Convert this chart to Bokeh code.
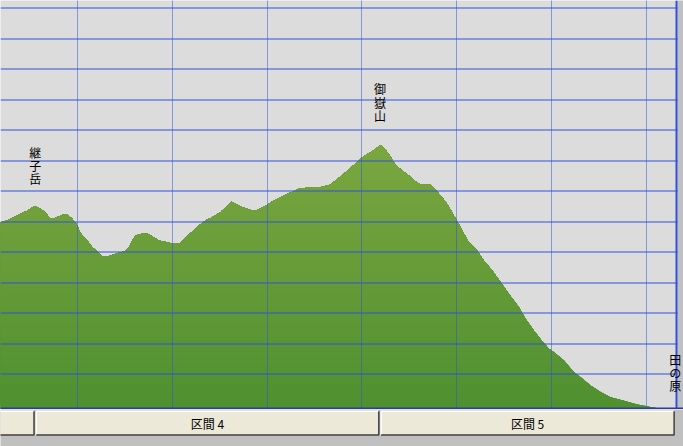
import numpy as np
from bokeh.plotting import figure
from bokeh.layouts import column
from bokeh.models import (Range1d, Span, ColumnDataSource, LabelSet, BoxAnnotation)
from bokeh.core.properties import value
from bokeh.embed import file_html
from bokeh.resources import INLINE

# ---- data (distance in km, elevation in m) ----
dist_km = [5.15, 5.182, 5.246, 5.323, 5.393, 5.464, 5.517, 5.552, 5.576, 5.639, 5.710,
           5.745, 5.797, 5.850, 5.886, 5.921, 5.963, 5.992, 6.013, 6.044, 6.097,
           6.150, 6.203, 6.248, 6.325, 6.378, 6.430, 6.501, 6.536, 6.572, 6.607,
           6.641, 6.688, 6.730, 6.800, 6.852, 6.905, 6.958, 7.011, 7.081, 7.152,
           7.222, 7.274, 7.345, 7.416, 7.503, 7.556, 7.619, 7.661, 7.714, 7.767,
           7.838, 7.883, 7.925, 7.996, 8.066, 8.154, 8.224, 8.329, 8.418, 8.558,
           8.664, 8.734, 8.804, 8.909, 8.980, 9.015, 9.068, 9.120, 9.173, 9.191,
           9.209, 9.244, 9.297, 9.349, 9.420, 9.490, 9.560, 9.613, 9.666, 9.719,
           9.753, 9.824, 9.895, 9.947, 10.000, 10.053, 10.123, 10.211, 10.281, 10.369,
           10.457, 10.545, 10.650, 10.721, 10.808, 10.897, 10.966, 11.019, 11.125, 11.230,
           11.301, 11.406, 11.512, 11.617, 11.758, 11.899, 12.021, 12.040, 12.147, 12.314]
elev_m = [2796, 2796, 2803, 2813, 2825, 2835, 2846, 2850, 2846, 2833, 2809,
          2809, 2816, 2822, 2822, 2813, 2800, 2786, 2770, 2754, 2737,
          2715, 2701, 2686, 2686, 2691, 2697, 2703, 2715, 2737, 2754,
          2756, 2760, 2759, 2748, 2737, 2734, 2730, 2727, 2728, 2753,
          2770, 2786, 2803, 2813, 2830, 2846, 2864, 2857, 2849, 2843,
          2836, 2836, 2843, 2854, 2868, 2882, 2892, 2907, 2910, 2912,
          2921, 2939, 2956, 2985, 3005, 3013, 3023, 3034, 3046, 3049,
          3045, 3034, 3012, 2985, 2967, 2950, 2931, 2921, 2920, 2921,
          2910, 2885, 2857, 2829, 2800, 2770, 2731, 2704, 2671, 2639,
          2600, 2562, 2518, 2480, 2442, 2406, 2382, 2371, 2344, 2305,
          2289, 2262, 2240, 2223, 2212, 2199, 2193, 2190, 2186, 2180]

landmark_names = ["継子岳", "御嶽山", "田の原"]
landmark_km = [5.548, 9.185, 12.300]
landmark_elev = [2859, 3067, 2180]

section_names = ["", "区間 4", "区間 5"]
section_start_km = [4.50, 5.548, 9.185]
section_end_km = [5.548, 9.185, 12.300]

grid_km = [6, 7, 8, 9, 10, 11, 12]
grid_elev = [2300, 2400, 2500, 2600, 2700, 2800, 2900, 3000, 3100, 3200, 3300, 3400, 3500]

# ---- styles ----
BLUE = "#3050d8"
FONT = "Noto Sans CJK JP"
FACE = "#ece9d8"
GRAY = "#c0c0c0"
W, H_TOP, H_BOT = 683, 409, 37
X0, X1 = 5.1825, 12.387
Y0, Y1 = 2183.0, 3524.0
kx = W / (X1 - X0)
ky = H_TOP / (Y1 - Y0)

xr = Range1d(X0, X1)

top = figure(width=W, height=H_TOP, x_range=xr, y_range=Range1d(Y0, Y1),
             output_backend="svg", toolbar_location=None,
             x_axis_type=None, y_axis_type=None,
             min_border_left=0, min_border_right=0, min_border_top=0, min_border_bottom=0,
             background_fill_color="#dcdcdc", border_fill_color=GRAY,
             outline_line_color=None)

# terrain with vertical gradient (stacked layers clipped exactly at the profile)
x = np.array(dist_km, dtype=float)
e = np.array(elev_m, dtype=float)


def layer(lo):
    xs, ys = [x[0]], [max(e[0], lo)]
    for i in range(len(x) - 1):
        a, b = e[i] - lo, e[i + 1] - lo
        if a * b < 0:
            xs.append(x[i] + (x[i + 1] - x[i]) * a / (a - b))
            ys.append(lo)
        xs.append(x[i + 1])
        ys.append(max(e[i + 1], lo))
    return xs, ys


c_top = np.array([124, 167, 65])
c_bot = np.array([80, 144, 48])
for lo in np.linspace(2150, 3080, 80):
    t = np.clip((lo - 2189) / (3064 - 2189), 0, 1)
    c = (c_bot + t * (c_top - c_bot)).round().astype(int)
    col = "#%02x%02x%02x" % tuple(c)
    lx, ly = layer(lo)
    top.varea(x=lx, y1=ly, y2=lo, fill_color=col)


# horizontal grid: 1px filled bands aligned to whole pixel rows (always crisp)
for v in grid_elev:
    row = np.round((Y1 - v) * ky)
    top.add_layout(BoxAnnotation(top=Y1 - row / ky, bottom=Y1 - (row + 1) / ky,
                                 fill_color=BLUE, fill_alpha=1.0, line_color=None,
                                 level="overlay"))


def snap_x(v):
    px = (v - X0) * kx
    return X0 + np.floor(px) / kx


for v in grid_km:
    top.add_layout(Span(location=snap_x(v), dimension="height", line_color=BLUE,
                        line_width=1, line_dash="1 1", level="overlay"))

# right grey strip, right and bottom frame borders
top.add_layout(BoxAnnotation(left=X0 + 677 / kx, fill_color=GRAY, fill_alpha=1.0,
                             line_color=None, level="overlay"))
top.add_layout(BoxAnnotation(left=X0 + 675 / kx, right=X0 + 677 / kx,
                             fill_color=BLUE, fill_alpha=1.0, line_color=None,
                             level="overlay"))
top.add_layout(BoxAnnotation(top=Y1 - 407 / ky, bottom=Y1 - 409 / ky,
                             fill_color="#2c3a9c", fill_alpha=1.0, line_color=None,
                             level="overlay"))

lm_src = ColumnDataSource(dict(x=landmark_km, y=landmark_elev,
                               t=["\n".join(n) for n in landmark_names]))
top.add_layout(LabelSet(x="x", y="y", text="t", source=lm_src, y_offset=16,
                        text_align="center", text_baseline="bottom",
                        text_font=value(FONT), text_font_size="12px",
                        text_line_height=0.78, text_color="black", level="overlay"))

# ---- section buttons ----
bot = figure(width=W, height=H_BOT, x_range=xr, y_range=Range1d(0, H_BOT),
             output_backend="svg", toolbar_location=None,
             x_axis_type=None, y_axis_type=None,
             min_border_left=0, min_border_right=0, min_border_top=0, min_border_bottom=0,
             background_fill_color=GRAY, border_fill_color=GRAY,
             outline_line_color=None)

gap = 0.012
lefts = [s + gap for s in section_start_km]
rights = [s - gap for s in section_end_km]
btn_top, btn_bot = 35.3, 11.5
bot.quad(left=lefts, right=rights, top=btn_top, bottom=btn_bot,
         fill_color=FACE, line_color=None)
bot.multi_line(xs=[[l, l, r] for l, r in zip(lefts, rights)],
               ys=[[btn_bot, btn_top, btn_top] for _ in lefts],
               line_color="white", line_width=1.5)
bot.multi_line(xs=[[l, r, r] for l, r in zip(lefts, rights)],
               ys=[[btn_bot, btn_bot, btn_top] for _ in lefts],
               line_color="#404040", line_width=1.5)

named = [i for i, n in enumerate(section_names) if n]
bot.text(x=[(section_start_km[i] + section_end_km[i]) / 2 for i in named],
         y=[23.5] * len(named), text=[section_names[i] for i in named],
         text_align="center", text_baseline="middle",
         text_font=value(FONT), text_font_size="12px", text_color="black")

layout = column(top, bot, spacing=0)
open("out.html", "w").write(file_html(layout, INLINE))
